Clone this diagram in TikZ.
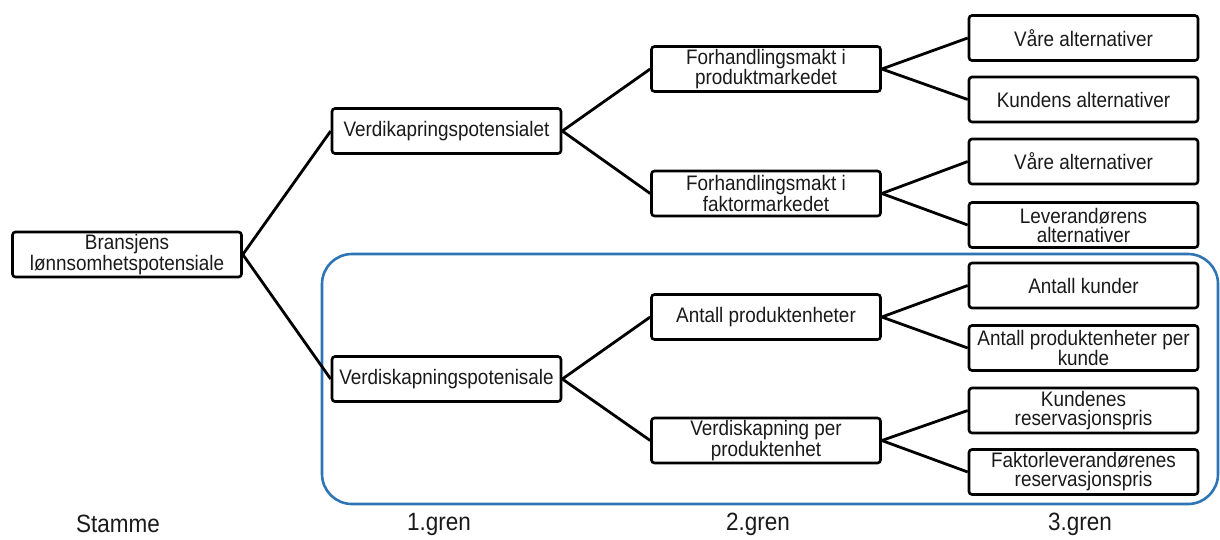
\documentclass[tikz,border=0pt]{standalone}
\usepackage{fontspec}
\setmainfont{Liberation Sans}[FakeStretch=0.9]
\definecolor{frameblue}{HTML}{2E75B6}
\definecolor{txt}{HTML}{1A1A1A}
\tikzset{
  nbox/.style={draw=black, line width=2.6pt, rounded corners=3pt, fill=white,
    minimum width=229pt, minimum height=45pt, inner sep=0pt, align=center,
    text=txt, font=\fontsize{21}{19}\selectfont},
  conn/.style={draw=black, line width=2.8pt},
  glabel/.style={text=txt, font=\fontsize{25}{25}\selectfont, inner sep=0pt},
  groupframe/.style={draw=frameblue, line width=2.6pt, rounded corners=30pt}
}
\begin{document}
\begin{tikzpicture}[x=1pt,y=-1pt]
\useasboundingbox (0,0) rectangle (1220,539);
\draw[groupframe] (322,254) rectangle (1218,504);
% root
\node[nbox] (root) at (127,254.5) {Bransjens\\lønnsomhetspotensiale};
% column 1
\node[nbox] (vkap) at (446.5,131) {Verdikapringspotensialet};
\node[nbox] (vska) at (446.5,379) {Verdiskapningspotenisale};
% column 2
\node[nbox] (fprod) at (766,69) {Forhandlingsmakt i\\produktmarkedet};
\node[nbox] (ffakt) at (766,193.5) {Forhandlingsmakt i\\faktormarkedet};
\node[nbox] (aprod) at (766,317) {Antall produktenheter};
\node[nbox] (vper) at (766,440.5) {Verdiskapning per\\produktenhet};
% column 3
\node[nbox] (vaare1) at (1083.5,38) {Våre alternativer};
\node[nbox] (kund) at (1083.5,99.5) {Kundens alternativer};
\node[nbox] (vaare2) at (1083.5,161.5) {Våre alternativer};
\node[nbox] (lev) at (1083.5,225) {Leverandørens\\alternativer};
\node[nbox] (akund) at (1083.5,285.5) {Antall kunder};
\node[nbox] (aper) at (1083.5,348) {Antall produktenheter per\\kunde};
\node[nbox] (kres) at (1083.5,410.5) {Kundenes\\reservasjonspris};
\node[nbox] (fres) at (1083.5,472) {Faktorleverandørenes\\reservasjonspris};
% connectors
\draw[conn] (root.east) -- (vkap.west);
\draw[conn] (root.east) -- (vska.west);
\draw[conn] (vkap.east) -- (fprod.west);
\draw[conn] (vkap.east) -- (ffakt.west);
\draw[conn] (vska.east) -- (aprod.west);
\draw[conn] (vska.east) -- (vper.west);
\draw[conn] (fprod.east) -- (vaare1.west);
\draw[conn] (fprod.east) -- (kund.west);
\draw[conn] (ffakt.east) -- (vaare2.west);
\draw[conn] (ffakt.east) -- (lev.west);
\draw[conn] (aprod.east) -- (akund.west);
\draw[conn] (aprod.east) -- (aper.west);
\draw[conn] (vper.east) -- (kres.west);
\draw[conn] (vper.east) -- (fres.west);
% bottom labels
\node[glabel] (lstamme) at (118,524) {Stamme};
\node[glabel] (lg1) at (439,524) {1.gren};
\node[glabel] (lg2) at (758,524) {2.gren};
\node[glabel] (lg3) at (1080,524) {3.gren};
\end{tikzpicture}
\end{document}
